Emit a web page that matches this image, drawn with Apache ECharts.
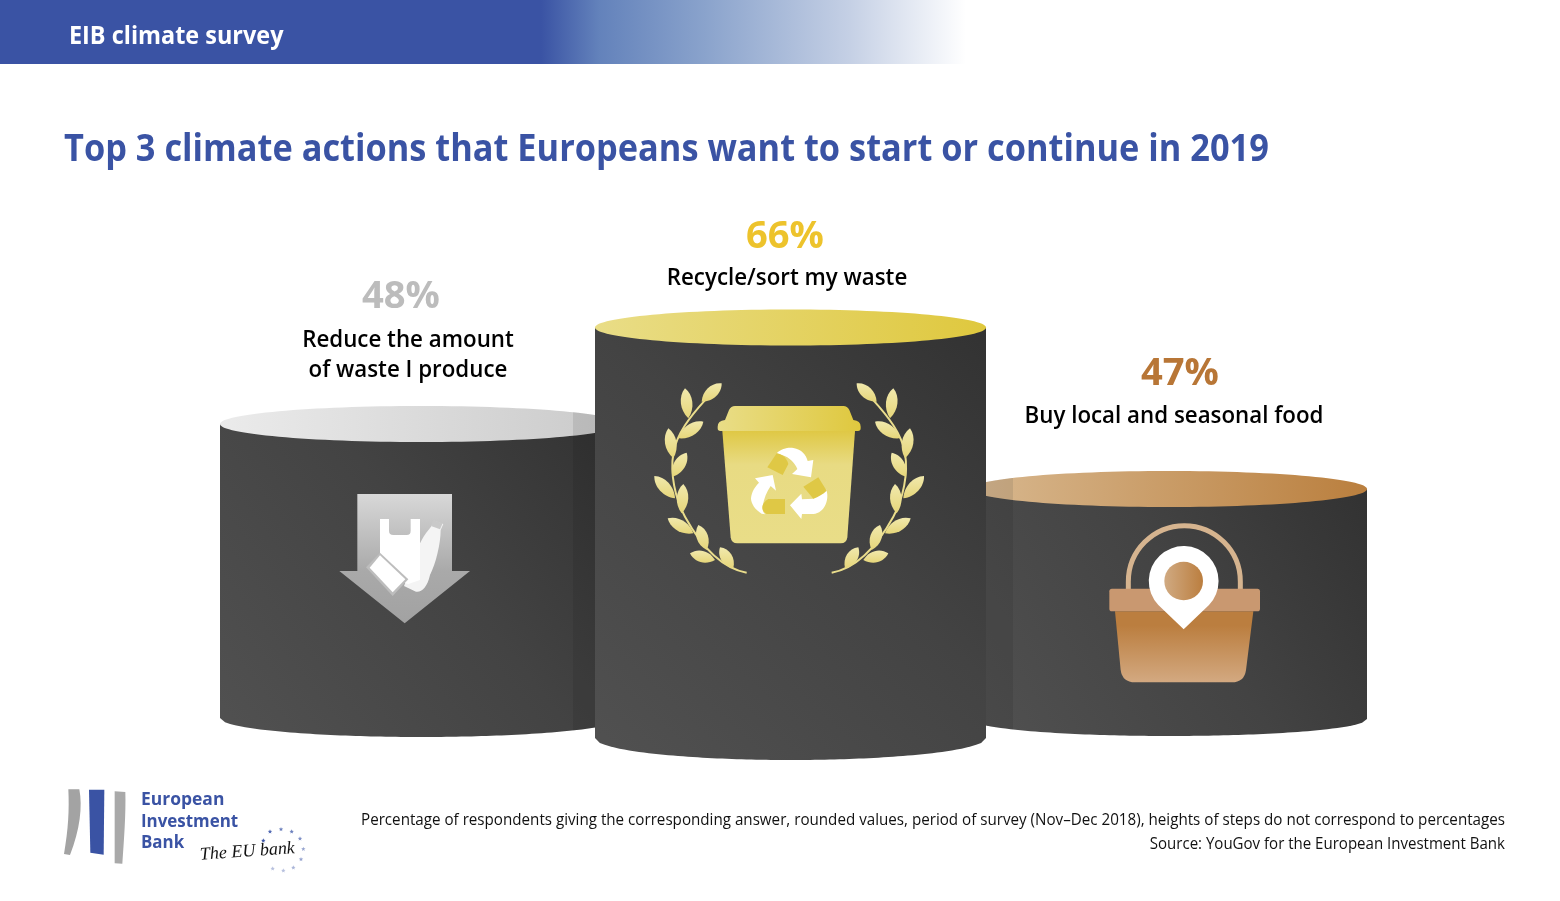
<!DOCTYPE html>
<html>
<head>
<meta charset="utf-8">
<title>EIB climate survey</title>
<script src="https://cdn.jsdelivr.net/npm/echarts@6/dist/echarts.min.js"></script>
<style>
	html, body { margin: 0; padding: 0; background: #fff; }
	#chart { width: 1560px; height: 901px; }
</style>
</head>
<body>
<div id="chart"></div>
<script type="text/javascript">
	// 数据
	var categories = ['Reduce the amount\nof waste I produce', 'Recycle/sort my waste', 'Buy local and seasonal food'];
	var shareValues = [48, 66, 47];
	var stepTopLevels = [477, 573.5, 412];   // heights of steps do not correspond to percentages
	var stepBaseLevels = [183, 163, 182];

	var FONT = '"Open Sans", "Noto Sans", sans-serif';
	var BLUE = '#3a53a4';

	// 每个台阶的外观（两侧台阶的椭圆有一部分被中间台阶遮挡）
	var stepLook = [
		{ nudge: 13.5, rx: 201, skirt: 19, cap: ['#ebebeb', '#cacaca'], shade: [573, 596], pct: '#bcbcbc', pctPos: [401, 297], labelPos: [408, 355], pctScale: 1.03, labelScale: 0.93 },
		{ nudge: -2, rx: 195.5, skirt: 22, cap: ['#e9dd87', '#dfc83e'], shade: null, pct: '#edc32c', pctPos: [785, 237], labelPos: [787, 278], pctScale: 1.03, labelScale: 0.93 },
		{ nudge: -8.5, rx: 198, skirt: 17, cap: ['#d8b88f', '#ba7f3e'], shade: [985, 1013], pct: '#b87636', pctPos: [1180, 374], labelPos: [1174, 416], pctScale: 1.03, labelScale: 0.93 }
	];

	function linear(x, y, x2, y2, stops) {
		return new echarts.graphic.LinearGradient(x, y, x2, y2, stops.map(function (s) {
			return { offset: s[0], color: s[1] };
		}));
	}

	function textEl(text, x, y, size, weight, fill, align, scaleX) {
		return {
			type: 'text', x: x, y: y, scaleX: scaleX || 1,
			style: {
				text: text, fill: fill, align: align || 'left', verticalAlign: 'middle',
				font: weight + ' ' + size + 'px ' + FONT, lineHeight: size + 6
			}
		};
	}

	// 圆柱台阶
	function renderStep(params, api) {
		var i = api.value(0);
		var look = stepLook[i];
		var top = api.coord([i, api.value(2)]);
		var base = api.coord([i, api.value(3)]);
		var cx = top[0] + look.nudge, rx = look.rx, ryTop = 18, ryBase = look.skirt;
		var topY = top[1], baseY = base[1];

		function arcAt(x) {
			var t = (x - cx) / rx;
			return Math.sqrt(Math.max(0, 1 - t * t));
		}

		var body = [[cx - rx, topY]], n, x;
		for (n = 0; n <= 80; n++) {
			x = cx - rx + 2 * rx * n / 80;
			body.push([x, baseY + ryBase * arcAt(x)]);
		}
		body.push([cx + rx, topY]);

		var children = [
			{
				type: 'polygon', shape: { points: body },
				style: { fill: linear(0, 1, 1, 0, [[0, '#515151'], [0.55, '#434343'], [1, '#323232']]) }
			},
			{
				type: 'ellipse', shape: { cx: cx, cy: topY, rx: rx, ry: ryTop },
				style: { fill: linear(0, 0, 1, 0, [[0, look.cap[0]], [1, look.cap[1]]]) }
			}
		];

		// 被中间台阶遮挡处的阴影
		if (look.shade) {
			var bandBody = [], bandCap = [];
			for (n = 0; n <= 24; n++) {
				x = look.shade[0] + (look.shade[1] - look.shade[0]) * n / 24;
				bandBody.push([x, topY + ryTop * arcAt(x)]);
				bandCap.push([x, topY - ryTop * arcAt(x)]);
			}
			for (n = 24; n >= 0; n--) {
				x = look.shade[0] + (look.shade[1] - look.shade[0]) * n / 24;
				bandBody.push([x, baseY + ryBase * arcAt(x)]);
				bandCap.push([x, topY + ryTop * arcAt(x)]);
			}
			children.push({ type: 'polygon', shape: { points: bandBody }, style: { fill: 'rgba(0,0,0,0.08)' } });
			children.push({ type: 'polygon', shape: { points: bandCap }, style: { fill: 'rgba(60,60,60,0.13)' } });
		}

		children.push(textEl(api.value(1) + '%', look.pctPos[0], look.pctPos[1], 37, 'bold', look.pct, 'center', look.pctScale));
		children.push(textEl(categories[i], look.labelPos[0], look.labelPos[1], 24, '600', '#000', 'center', look.labelScale));
		return { type: 'group', children: children };
	}

	function path(d, fill, extra) {
		var style = { fill: fill };
		for (var k in extra) style[k] = extra[k];
		return { type: 'path', shape: { pathData: d }, style: style };
	}

	// 叶子：从叶柄到叶尖
	function leaf(x0, y0, x1, y1, w) {
		var dx = x1 - x0, dy = y1 - y0;
		var nx = -dy / Math.hypot(dx, dy) * w, ny = dx / Math.hypot(dx, dy) * w;
		return 'M' + x0 + ',' + y0 +
			'C' + (x0 + dx * 0.3 + nx) + ',' + (y0 + dy * 0.3 + ny) + ' ' + (x0 + dx * 0.75 + nx) + ',' + (y0 + dy * 0.75 + ny) + ' ' + x1 + ',' + y1 +
			'C' + (x0 + dx * 0.75 - nx) + ',' + (y0 + dy * 0.75 - ny) + ' ' + (x0 + dx * 0.3 - nx) + ',' + (y0 + dy * 0.3 - ny) + ' ' + x0 + ',' + y0 + 'Z';
	}

	function laurel() {
		var tips = [
			[185, 95, 245, 40], [145, 145, 135, 55], [115, 205, 190, 155], [100, 265, 85, 175],
			[97, 320, 140, 248], [105, 385, 43, 318], [125, 430, 130, 342], [160, 490, 83, 445],
			[200, 540, 175, 465], [225, 570, 150, 550], [280, 595, 240, 532]
		];
		var gold = linear(0, 0, 0, 1, [[0, '#f1e9ad'], [1, '#e6d67a']]);
		var parts = tips.map(function (t) { return path(leaf(t[0], t[1], t[2], t[3], 23), gold); });
		parts.unshift(path('M320,608C250,595 190,540 135,440C105,385 90,310 100,250C110,190 150,140 200,85', 'none', { stroke: '#eadd8c', lineWidth: 6 }));
		return parts;
	}

	function star(cx, cy, r) {
		var d = '', a, rr;
		for (var i = 0; i < 10; i++) {
			a = -Math.PI / 2 + i * Math.PI / 5;
			rr = i % 2 ? r * 0.42 : r;
			d += (i ? 'L' : 'M') + (cx + rr * Math.cos(a)) + ',' + (cy + rr * Math.sin(a));
		}
		return d + 'Z';
	}

	// 图标（坐标取自放大截图，每组原点见 x/y，缩放 1/3）
	function renderIcons() {
		function crop(x, y, children) {
			return { type: 'group', x: x, y: y, scaleX: 1 / 3, scaleY: 1 / 3, children: children };
		}
		var goldFlat = '#dfc845';

		var waste = crop(320, 480, [
			path('M112,42L396,42L396,273L450,273L254,430L58,273L112,273Z', linear(0, 0, 0, 1, [[0, '#d8d8d8'], [0.6, '#a9a9a9'], [1, '#a2a2a2']])),
			path('M342,122L370,132L362,150C362,190 348,250 330,285C322,322 304,338 288,335L252,318L288,225C296,190 312,165 333,140Z', '#f4f4f4'),
			path('M340,120L368,130L360,148L333,138Z', '#c9c9c9'),
			path('M180,117L207,117L207,152Q207,165 220,165L260,165Q272,165 272,152L272,117L300,117L300,300L265,312L220,300L180,240Z', '#ffffff'),
			path('M180,218L265,298L218,348L138,262Z', '#bdbdbd'),
			path('M180,226L256,298L218,337L149,263Z', '#ffffff')
		]);

		var bin = crop(640, 370, laurel().concat([
			path('M247,183L645,183L622,502Q620,520 602,520L292,520Q274,520 272,502Z', linear(0, 0, 0, 1, [[0, '#dfc845'], [0.3, '#e8db83'], [1, '#e9dd88']])),
			path('M285,108L610,108Q622,108 628,120L640,150Q662,152 662,170L662,175Q662,183 654,183L241,183Q233,183 233,175L233,170Q233,152 255,150L267,120Q273,108 285,108Z', linear(0, 0, 1, 0, [[0, '#e9dd87'], [1, '#dfc83e']])),
			path('M410,250C425,235 445,232 460,234C485,238 498,255 503,273L520,270L513,322L456,312L472,297C465,280 450,262 425,255Z', '#ffffff'),
			path('M410,250L382,292L428,315L445,282C440,265 428,252 410,250Z', goldFlat),
			path('M558,358C570,385 555,430 520,432L486,432L484,447L450,406L484,371L486,388L520,386C535,380 545,370 558,358Z', '#ffffff'),
			path('M490,350L535,322L560,362C550,372 535,380 520,386Z', goldFlat),
			path('M345,325L398,315L408,362L392,348C380,365 372,385 368,408C366,420 370,428 376,433L365,431C345,420 333,400 333,385C335,365 345,350 357,338Z', '#ffffff'),
			path('M385,387L435,387L435,432L380,432C368,425 362,412 372,398Q378,390 385,387Z', goldFlat)
		]));
		// 右侧桂枝为左侧镜像
		bin.children.push({ type: 'group', x: 895, scaleX: -1, children: laurel() });

		var basket = crop(1090, 510, [
			path('M115,240L115,215A168,168 0 0 1 451,215L451,240', 'none', { stroke: '#d6b48f', lineWidth: 15 }),
			path('M75,304L490,304L468,480Q463,517 425,517L135,517Q97,517 92,480Z', linear(0, 0, 0, 1, [[0, '#bb7e3f'], [0.2, '#bb7e3f'], [1, '#d3a981']])),
			{ type: 'rect', shape: { x: 58, y: 236, width: 452, height: 68, r: 8 }, style: { fill: '#c99870' } },
			path('M281,358L205,285A104.7,104.7 0 1 1 357,285Z', '#ffffff'),
			{ type: 'circle', shape: { cx: 281, cy: 213, r: 58 }, style: { fill: linear(0, 0, 1, 0, [[0, '#d0aa82'], [1, '#bb7e3f']]) } }
		]);

		var starSpots = [[660, 155], [693, 148], [725, 155], [750, 176], [760, 207], [753, 238], [730, 263], [700, 272], [668, 266], [640, 182]];
		var starFill = ['#5269b3', '#6c80bd', '#6c80bd', '#7f90c6', '#95a3cf', '#95a3cf', '#aab5d8', '#b7c0de', '#b7c0de', '#3a53a4'];
		var logo = crop(50, 780, [
			path('M55,28L88,28C98,80 90,150 60,225L42,222C55,150 58,90 55,28Z', '#a3a3a3'),
			path('M117,29L163,29L161,224L121,218Z', BLUE),
			path('M194,34L226,36C228,100 222,180 217,251L194,250Z', '#a9a9a9')
		].concat(starSpots.map(function (s, i) { return path(star(s[0], s[1], 7), starFill[i]); })));

		return { type: 'group', children: [waste, bin, basket, logo] };
	}

	var option = {
		animation: false,
		backgroundColor: '#fff',
		tooltip: { show: false },
		grid: { left: 215, right: 190, top: 0, bottom: 0 },
		xAxis: { type: 'category', data: categories, show: false },
		yAxis: { type: 'value', min: 0, max: 901, show: false },
		graphic: [
			{
				type: 'rect', x: 0, y: 0, silent: true,
				shape: { width: 966, height: 64 },
				style: { fill: linear(0, 0, 1, 0, [[0, BLUE], [0.56, BLUE], [0.62, '#6382bb'], [0.73, '#8aa3cc'], [0.88, '#c5d0e5'], [1, '#ffffff']]) }
			},
			textEl('EIB climate survey', 69, 37, 25, 'bold', '#fff', 'left', 0.937),
			textEl('Top 3 climate actions that Europeans want to start or continue in 2019', 64, 150, 38, 'bold', BLUE, 'left', 0.904),
			textEl('European', 141, 800, 18, 'bold', BLUE, 'left', 0.97),
			textEl('Investment', 141, 822, 18, 'bold', BLUE, 'left', 0.94),
			textEl('Bank', 141, 843, 18, 'bold', BLUE, 'left', 0.94),
			{
				type: 'text', x: 200, y: 855, rotation: 0.07,
				style: { text: 'The EU bank', fill: '#111', verticalAlign: 'middle', font: 'italic 18px "Liberation Serif", serif' }
			},
			textEl('Percentage of respondents giving the corresponding answer, rounded values, period of survey (Nov\u2013Dec 2018), heights of steps do not correspond to percentages', 1505, 820, 16, 'normal', '#111', 'right', 0.948),
			textEl('Source: YouGov for the European Investment Bank', 1505, 844, 16, 'normal', '#111', 'right', 0.94)
		],
		series: [
			{
				// 先画两侧，再画中间
				type: 'custom', clip: false, silent: true, coordinateSystem: 'cartesian2d',
				renderItem: renderStep,
				encode: { x: 0, y: 2 },
				data: [0, 2, 1].map(function (i) {
					return [i, shareValues[i], stepTopLevels[i], stepBaseLevels[i]];
				})
			},
			{
				type: 'custom', clip: false, silent: true, coordinateSystem: 'none', z: 5,
				renderItem: renderIcons,
				data: [0]
			}
		]
	};

	var chart = echarts.init(document.getElementById('chart'));
	chart.setOption(option);
</script>
</body>
</html>
